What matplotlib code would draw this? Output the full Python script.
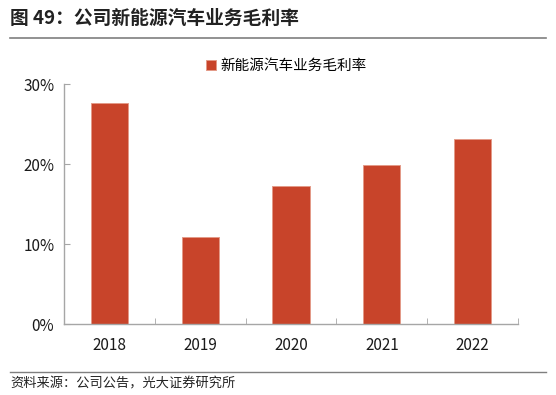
import numpy as np
import matplotlib
matplotlib.use("Agg")
import matplotlib.pyplot as plt
from matplotlib.ticker import FuncFormatter, FixedLocator

plt.rcParams['font.family'] = ['Noto Sans CJK SC', 'DejaVu Sans']

# data
years = ['2018', '2019', '2020', '2021', '2022']
margin = [27.6, 10.9, 17.2, 19.9, 23.1]
series_name = '新能源汽车业务毛利率'

bar_color = '#C8442A'
axis_color = '#A6A6A6'

fig = plt.figure(figsize=(5.56, 3.95), dpi=100)
ax = fig.add_axes([0.1151, 0.1797, 0.8166, 0.6076])

x = np.arange(len(years))
ax.bar(x, margin, width=0.41, color=bar_color, edgecolor='#E49A88',
       linewidth=0.7, label=series_name, zorder=2)

ax.set_xlim(-0.5, len(years) - 0.5)
ax.set_ylim(0, 30)
ax.set_yticks([0, 10, 20, 30])
ax.yaxis.set_major_formatter(FuncFormatter(lambda v, p: f'{v:.0f}%'))

ax.set_xticks(x)
ax.set_xticklabels(years)
ax.xaxis.set_minor_locator(FixedLocator(np.arange(-0.5, len(years), 1.0)))

for s in ['top', 'right']:
    ax.spines[s].set_visible(False)
for s in ['left', 'bottom']:
    ax.spines[s].set_color(axis_color)
    ax.spines[s].set_linewidth(1.0)

ax.tick_params(axis='x', which='major', length=0, pad=9, labelsize=11, labelcolor='#1a1a1a')
ax.tick_params(axis='x', which='minor', direction='in', length=4, color=axis_color)
ax.tick_params(axis='y', direction='in', length=4, color=axis_color, pad=7,
               labelsize=11, labelcolor='#1a1a1a')

leg = fig.legend(loc='center', bbox_to_anchor=(0.515, 0.833), frameon=False,
                 fontsize=10.5, handlelength=0.7, handleheight=0.7,
                 handletextpad=0.3, borderaxespad=0)

# title and rules
fig.text(0.018, 0.953, '图 49：公司新能源汽车业务毛利率', fontsize=13.5,
         fontweight='bold', color='#222222', va='center', ha='left')
fig.add_artist(plt.Line2D([0.018, 0.982], [0.903, 0.903], color='#7F7F7F', linewidth=1.2))
fig.add_artist(plt.Line2D([0.018, 0.982], [0.058, 0.058], color='#7F7F7F', linewidth=1.0))
fig.text(0.018, 0.045, '资料来源：公司公告，光大证券研究所', fontsize=9.5,
         color='#222222', va='top', ha='left')

fig.savefig('out.png', dpi=100)
